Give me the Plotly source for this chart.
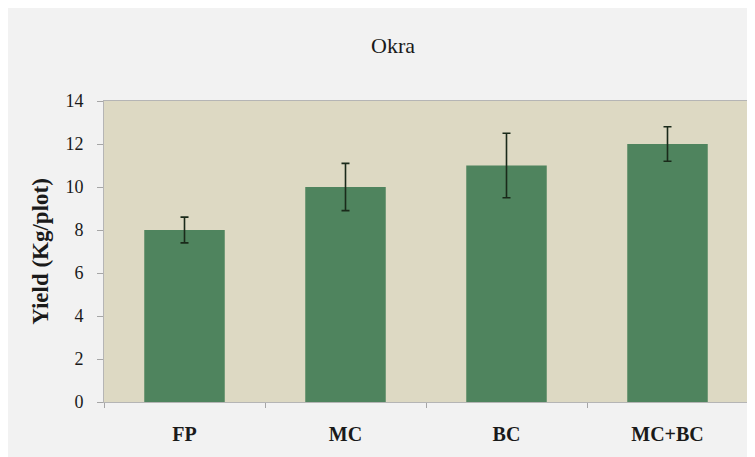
import plotly.graph_objects as go

categories = ["FP", "MC", "BC", "MC+BC"]
yield_values = [8, 10, 11, 12]
error_values = [0.6, 1.1, 1.5, 0.8]
y_ticks = [0, 2, 4, 6, 8, 10, 12, 14]

W, H = 755, 457
L, R, T, B = 96, 15, 93, 63

fig = go.Figure()
fig.add_trace(go.Bar(
    x=categories, y=yield_values,
    marker=dict(color="#4f845e", line=dict(width=0)),
    error_y=dict(type="data", array=error_values, visible=True,
                 color="#1a2a1a", thickness=1.6, width=4),
    width=0.5,
))

fig.update_layout(
    width=W, height=H,
    margin=dict(l=L, r=R, t=T, b=B),
    paper_bgcolor="#f2f2f2",
    plot_bgcolor="#ddd9c3",
    showlegend=False,
    font=dict(family="Liberation Serif, Times New Roman, serif", color="#1a1a1a"),
    title=dict(text="Okra", x=385 / W, xanchor="center", y=1 - 37 / H, yanchor="middle",
               font=dict(size=22, family="Liberation Serif", color="#1a1a1a")),
    xaxis=dict(
        type="category", tickson="boundaries", ticks="outside", ticklen=5,
        tickcolor="#a6a6a6", showline=True, linecolor="#b5b5b5", linewidth=1, mirror=True,
        tickfont=dict(size=20, family="Liberation Serif", color="#1a1a1a"),
        ticklabelstandoff=14, showgrid=False,
        tickvals=categories, ticktext=["<b>%s</b>" % c for c in categories],
    ),
    yaxis=dict(
        range=[0, 14], tickvals=y_ticks, ticks="outside", ticklen=6, tickcolor="#a6a6a6",
        showline=True, linecolor="#b5b5b5", linewidth=1, mirror=True, showgrid=False,
        zeroline=False,
        tickfont=dict(size=18, family="Liberation Serif", color="#1a1a1a"),
        ticklabelstandoff=10,
        title=dict(text="<b>Yield (Kg/plot)</b>", standoff=10,
                   font=dict(size=23, family="Liberation Serif", color="#1a1a1a")),
    ),
)

fig.write_html("out.html")
